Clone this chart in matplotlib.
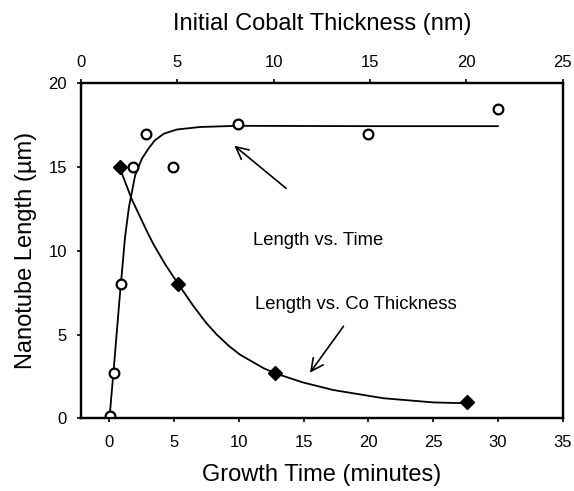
import matplotlib
matplotlib.use("Agg")
import matplotlib.pyplot as plt

plt.rcParams["font.family"] = ["Liberation Sans", "DejaVu Sans"]

# ---------------------------------------------------------------------------
# Data
# ---------------------------------------------------------------------------

# length vs. growth time (bottom axis)
growth_time = [0.05, 0.36, 0.87, 1.8, 2.83, 4.9, 9.92, 20.0, 30.0]
length_time = [0.16, 2.72, 8.0, 15.0, 17.0, 15.0, 17.55, 17.0, 18.5]

# fitted curve through the time data
fit_time = [0.0, 0.4, 0.77, 1.2, 1.5, 1.98, 2.5, 3.0, 3.5, 4.2, 5.2, 7.0, 9.85, 20.0, 30.0]
fit_len_time = [0.0, 3.6, 7.06, 10.8, 12.6, 14.5, 15.5, 16.1, 16.6, 17.0, 17.25, 17.4, 17.47, 17.45, 17.45]

# length vs. initial cobalt thickness (top axis)
co_thickness = [2.0, 5.06, 10.08, 20.05]
length_co = [15.0, 8.0, 2.69, 0.96]

# fitted curve through the thickness data
fit_co = [2.0, 2.63, 3.41, 3.76, 4.37, 5.06, 5.84, 6.5, 7.05, 7.7, 8.26, 9.47, 10.08, 11.5, 13.1, 15.7, 18.3, 20.05]
fit_len_co = [15.0, 13.1, 11.2, 10.4, 9.2, 8.0, 6.7, 5.7, 5.0, 4.3, 3.8, 3.0, 2.69, 2.15, 1.69, 1.2, 0.95, 0.9]

time_ticks = [0, 5, 10, 15, 20, 25, 30, 35]
co_ticks = [0, 5, 10, 15, 20, 25]
length_ticks = [0, 5, 10, 15, 20]

# ---------------------------------------------------------------------------
# Figure
# ---------------------------------------------------------------------------

fig = plt.figure(figsize=(5.74, 4.91), dpi=100)
ax = fig.add_axes([0.1411, 0.148, 0.839, 0.682])

ax.plot(fit_time, fit_len_time, color="black", lw=1.3, zorder=2)
ax.plot(growth_time, length_time, "o", ms=7, mfc="white", mec="black",
        mew=1.6, zorder=3)

ax.set_xlim(-2.2, 35)
ax.set_ylim(0, 20)
ax.set_xticks(time_ticks)
ax.set_yticks(length_ticks)
ax.tick_params(direction="out", length=3, width=1.2, labelsize=12, pad=7)
ax.tick_params(axis="x", pad=9)
ax.set_xlabel("Growth Time (minutes)", fontsize=17, labelpad=10)
ax.set_ylabel("Nanotube Length (\u00b5m)", fontsize=17, labelpad=8)

top = ax.twiny()
top.plot(fit_co, fit_len_co, color="black", lw=1.3, zorder=2)
top.plot(co_thickness, length_co, "D", ms=7, color="black", zorder=3)
top.set_xlim(0, 25)
top.set_xticks(co_ticks)
top.tick_params(direction="out", length=3, width=1.2, labelsize=12, pad=7)
top.set_xlabel("Initial Cobalt Thickness (nm)", fontsize=17, labelpad=18)

for a in (ax, top):
    for sp in a.spines.values():
        sp.set_linewidth(1.6)

# annotations
ax.annotate("", xy=(9.48, 16.39), xytext=(13.81, 13.63),
            arrowprops=dict(arrowstyle="->", color="black", lw=1.2,
                            mutation_scale=22))
ax.text(11.1, 10.65, "Length vs. Time", fontsize=13.3, ha="left", va="center")

ax.annotate("", xy=(15.36, 2.59), xytext=(18.2, 5.63),
            arrowprops=dict(arrowstyle="->", color="black", lw=1.2,
                            mutation_scale=22))
ax.text(11.26, 6.82, "Length vs. Co Thickness", fontsize=13.3,
        ha="left", va="center")

fig.savefig("out.png", dpi=100)
